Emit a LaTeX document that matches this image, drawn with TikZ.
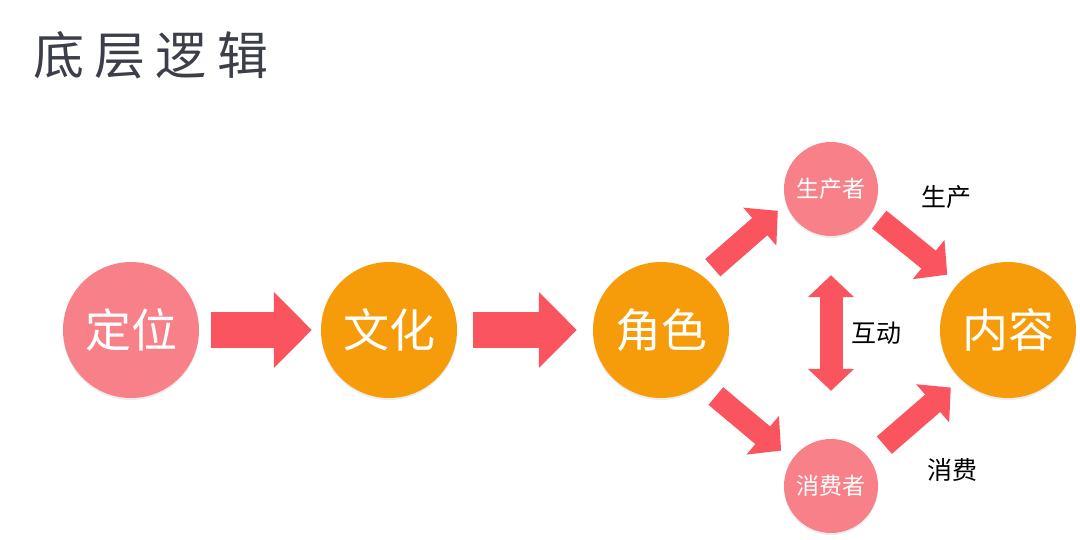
\documentclass[tikz,border=0pt]{standalone}
\usepackage{fontspec}
\newfontfamily\cjk{Noto Sans CJK SC}
\usetikzlibrary{arrows.meta, shadows}
\definecolor{rolepink}{RGB}{248, 128, 137}
\definecolor{roleorange}{RGB}{246, 156, 10}
\definecolor{arrowred}{RGB}{250, 84, 94}
\definecolor{titlegray}{RGB}{60, 63, 73}

\tikzset{
    bigball/.style={circle, fill=roleorange, minimum size=136pt, inner sep=0pt, text=white,
        font=\cjk\fontsize{46}{46}\selectfont, drop shadow={opacity=0.15, shadow xshift=0pt, shadow yshift=-2pt}},
    smallball/.style={circle, fill=rolepink, minimum size=94pt, inner sep=0pt, text=white,
        font=\cjk\fontsize{23}{23}\selectfont, drop shadow={opacity=0.15, shadow xshift=0pt, shadow yshift=-2pt}},
    flatarrow/.style={arrowred, line width=36pt, -{Triangle[length=38pt, width=74pt]}},
    slantarrow/.style={arrowred, line width=23pt, -{Triangle[length=24pt, width=49pt]}},
    botharrow/.style={arrowred, line width=23pt, {Triangle[length=22pt, width=45pt]}-{Triangle[length=22pt, width=45pt]}},
    sidelabel/.style={font=\cjk\fontsize{25}{25}\selectfont, text=black}
}

\begin{document}
\begin{tikzpicture}[x=1pt, y=-1pt]
    % Canvas
    \useasboundingbox (0,0) rectangle (1080,539);

    % Title
    \node[anchor=west, text=titlegray, font=\cjk\fontsize{51}{51}\selectfont\addfontfeatures{LetterSpace=20}] (title) at (30,55) {底层逻辑};

    % Circles
    \node[bigball, fill=rolepink] (dw) at (131,330) {定位};
    \node[bigball] (wh) at (389,330) {文化};
    \node[bigball] (js) at (661,330) {角色};
    \node[bigball] (nr) at (1008,330) {内容};
    \node[smallball] (sc) at (831,189) {生产者};
    \node[smallball] (xf) at (831,486) {消费者};

    % Main chain
    \draw[flatarrow, shorten <=12pt, shorten >=9pt] (dw) -- (wh);
    \draw[flatarrow, shorten <=16pt, shorten >=16pt] (wh) -- (js);

    % Diamond
    \draw[slantarrow, shorten <=13pt, shorten >=11pt] (js.52) -- (sc.198);
    \draw[slantarrow, shorten <=10pt, shorten >=14pt] (sc.-31) -- (nr.137);
    \draw[slantarrow, shorten <=18pt, shorten >=14pt] (js.-53) -- (xf.146);
    \draw[slantarrow, shorten <=20pt, shorten >=13pt] (xf.36) -- (nr.226);

    % Interaction
    \draw[botharrow, shorten <=39pt, shorten >=48pt] (sc.south) -- (xf.north);

    % Labels
    \node[sidelabel] (hd) at (876,333) {互动};
    \node[sidelabel] (scl) at (946,197) {生产};
    \node[sidelabel] (xfl) at (952,470) {消费};
\end{tikzpicture}
\end{document}
